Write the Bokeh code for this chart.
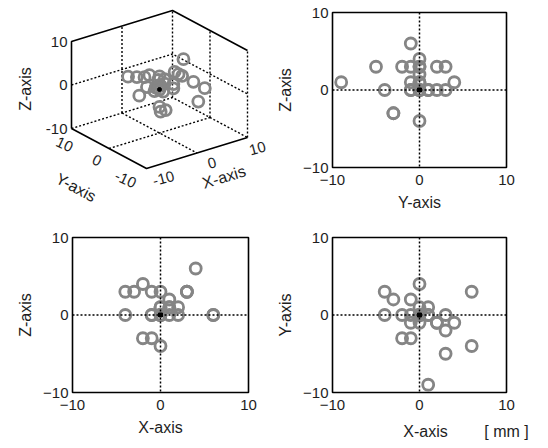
import math
from bokeh.plotting import figure
from bokeh.layouts import column, row
from bokeh.models import Range1d, Span, FixedTicker, LinearAxis
from bokeh.core.properties import value
from bokeh.embed import file_html
from bokeh.resources import INLINE

# ---- data (mm) ----
x_mm = [1, 6, 6, 4, 3, -2, -1, 0, -3, -4, -4, -2, 0, -1, 3, -1, 3, 0, 2, 1, 1, 2, 0, 0, -1, 1, 0, 0]
y_mm = [-9, 3, -4, -1, -5, -3, -3, 4, 2, 3, 0, 0, 0, 2, -2, -1, 0, 0, -1, 0, 1, -1, -1, 0, 0, 0, 0, 1]
z_mm = [1, 0, 0, 6, 3, -3, -3, 1, 3, 3, 0, 4, -4, 0, 3, 3, 3, 3, 1, 2, 0, 0, 0, 0, 0, 1, 1, 0]
ticks = [-10, 0, 10]
tick_labels = ["-10", "0", "10"]
x_name, y_name, z_name = "X-axis", "Y-axis", "Z-axis"
unit_label = "[ mm ]"

FONT = "Liberation Sans"
MARK = "#858585"
TXT = "#1e1e1e"
LIM = 10


def style_axis(ax, size="15px"):
    ax.axis_line_color = None
    ax.major_tick_line_color = None
    ax.minor_tick_line_color = None
    ax.major_tick_out = 0
    ax.major_tick_in = 0
    ax.minor_tick_out = 0
    ax.major_label_text_font = FONT
    ax.major_label_text_font_size = size
    ax.major_label_text_color = TXT
    ax.axis_label_text_font = FONT
    ax.axis_label_text_font_size = "16px"
    ax.axis_label_text_font_style = "normal"
    ax.axis_label_text_color = TXT


def panel(xs, ys, xlab, ylab, w, h, bl, br, bt, bb, unit=False):
    p = figure(width=w, height=h, x_range=Range1d(-LIM, LIM), y_range=Range1d(-LIM, LIM),
               output_backend="svg", toolbar_location=None,
               min_border_left=bl, min_border_right=br, min_border_top=bt, min_border_bottom=bb)
    p.grid.visible = False
    p.outline_line_color = "black"
    p.outline_line_width = 1.6
    for ax in (p.xaxis[0], p.yaxis[0]):
        ax.ticker = FixedTicker(ticks=ticks)
        style_axis(ax)
    p.yaxis.axis_label = ylab
    p.xaxis.major_label_standoff = 7
    p.xaxis.axis_label_standoff = 6
    p.yaxis.major_label_standoff = 4
    p.yaxis.axis_label_standoff = 6
    if unit:
        # second row below the tick labels: axis name and unit side by side
        name_pos = [0.7, 10]
        extra = LinearAxis(ticker=FixedTicker(ticks=name_pos))
        style_axis(extra, "16px")
        extra.major_label_standoff = 10
        extra.major_label_overrides = {name_pos[0]: xlab, name_pos[1]: unit_label}
        p.add_layout(extra, "below")
    else:
        p.xaxis.axis_label = xlab
    p.add_layout(Span(location=0, dimension="width", line_dash="2 2", line_color="black", line_width=1.5))
    p.add_layout(Span(location=0, dimension="height", line_dash="2 2", line_color="black", line_width=1.5))
    p.scatter(xs, ys, marker="circle", size=11, fill_color=None, line_color=MARK, line_width=2.8)
    p.scatter([0], [0], marker="square", size=4, color="black")
    return p


# ---- 3D view (oblique projection, page-pixel coordinates) ----
O = (159.0, 89.0)
EX = (5.05, -1.55)
EY = (-3.75, -2.0)
EZ = (0.0, -4.35)


def proj(x, y, z):
    return (O[0] + x * EX[0] + y * EY[0] + z * EZ[0],
            O[1] + x * EX[1] + y * EY[1] + z * EZ[1])


W1, W2, H1, H2 = 270, 276, 220, 226

p3 = figure(width=W1, height=H1, x_range=Range1d(0, W1), y_range=Range1d(H1, 0),
            output_backend="svg", toolbar_location=None, min_border=0,
            x_axis_location=None, y_axis_location=None)
p3.grid.visible = False
p3.outline_line_color = None

L = LIM


def seg(pts, dash=None, width=1.6):
    xs, ys = zip(*[proj(*q) for q in pts])
    kw = dict(line_color="black", line_width=width)
    if dash:
        kw["line_dash"] = dash
    p3.line(list(xs), list(ys), **kw)


seg([(-L, L, -L), (L, L, -L), (L, -L, -L)], "2 2", 1.4)
seg([(L, L, -L), (L, L, L)], "2 2", 1.4)
seg([(L, -L, -L), (L, -L, L)], "2 2", 1.4)
seg([(0, L, -L), (0, L, L)], "2 2", 1.4)
seg([(-L, L, 0), (L, L, 0), (L, -L, 0)], "2 2", 1.4)
seg([(L, 0, -L), (L, 0, L)], "2 2", 1.4)
seg([(0, L, -L), (0, -L, -L)], "2 2", 1.4)
seg([(-L, 0, -L), (L, 0, -L)], "2 2", 1.4)
seg([(-L, L, -L), (-L, L, L), (L, L, L), (L, -L, L)])
seg([(-L, L, -L), (-L, -L, -L), (L, -L, -L)])

pxs, pys = zip(*[proj(a, b, c) for a, b, c in zip(x_mm, y_mm, z_mm)])
p3.scatter(list(pxs), list(pys), marker="circle", size=11, fill_color=None, line_color=MARK, line_width=2.8)
ox, oy = proj(0, 0, 0)
p3.scatter([ox], [oy], marker="circle", size=4, color="black")

tf = value(FONT)
zt = [proj(-L, L, t) for t in ticks]
p3.text([q[0] for q in zt], [q[1] for q in zt], text=tick_labels, x_offset=-4,
        text_align="right", text_baseline="middle", text_font=tf, text_font_size=value("15px"), text_color=TXT)
yt = [proj(-L, t, -L) for t in ticks]
p3.text([q[0] for q in yt], [q[1] for q in yt], text=tick_labels, x_offset=[-21, -12, -7], y_offset=[11, 12, 16],
        angle=math.radians(-25), text_align="center", text_baseline="middle", text_font=tf,
        text_font_size=value("15px"), text_color=TXT)
xt = [proj(t, -L, -L) for t in ticks]
p3.text([q[0] for q in xt], [q[1] for q in xt], text=tick_labels, x_offset=[17, 15, 10], y_offset=[10, 10, 11],
        angle=math.radians(15), text_align="center", text_baseline="middle", text_font=tf,
        text_font_size=value("15px"), text_color=TXT)
ya = proj(-L, 0, -L)
xa = proj(0, -L, -L)
za = proj(-L, L, 0)
p3.text([ya[0]], [ya[1]], text=[y_name], x_offset=-33, y_offset=39, angle=math.radians(-28),
        text_align="center", text_baseline="middle", text_font=tf, text_font_size=value("16px"), text_color=TXT)
p3.text([xa[0]], [xa[1]], text=[x_name], x_offset=27, y_offset=24, angle=math.radians(17),
        text_align="center", text_baseline="middle", text_font=tf, text_font_size=value("16px"), text_color=TXT)
p3.text([za[0]], [za[1]], text=[z_name], x_offset=-46, y_offset=4, angle=math.pi / 2,
        text_align="center", text_baseline="middle", text_font=tf, text_font_size=value("16px"), text_color=TXT)

p_yz = panel(y_mm, z_mm, y_name, z_name, W2, H1, 62, 40, 12, 53)
p_xz = panel(x_mm, z_mm, x_name, z_name, W1, H2, 72, 22, 17, 54)
p_xy = panel(x_mm, y_mm, x_name, y_name, W2, H2, 62, 40, 17, 54, unit=True)

layout = column(row(column(p3), column(p_yz)), row(column(p_xz), column(p_xy)))
open("out.html", "w").write(file_html(layout, INLINE))
